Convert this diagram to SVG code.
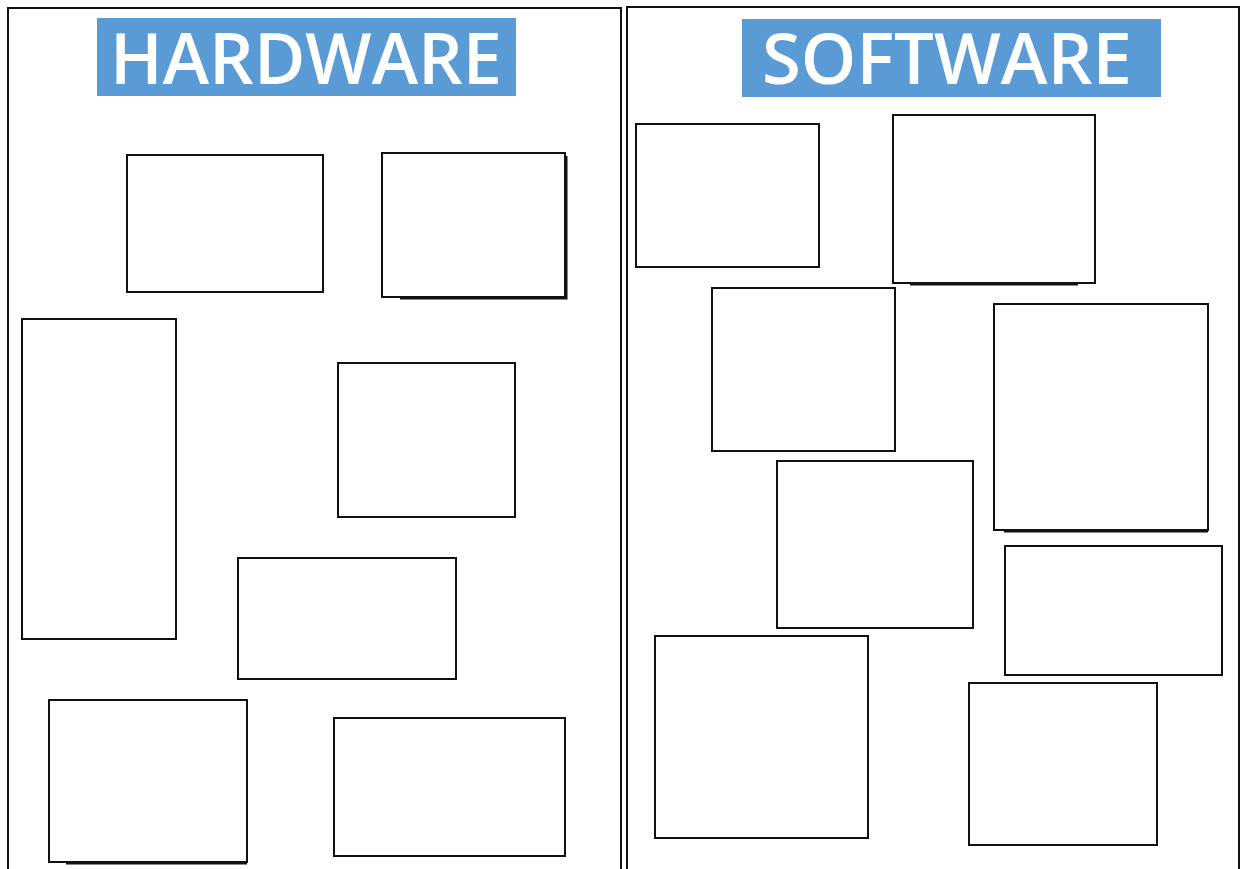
<svg xmlns="http://www.w3.org/2000/svg" width="1242" height="869" viewBox="0 0 1242 869">
<style>
.panel{fill:none;stroke:#111;stroke-width:2}
.box{fill:#fff;stroke:#111;stroke-width:2}
.shd{fill:none;stroke:#111;stroke-width:2}
.hdr{fill:#5b9bd5}
.ttl{fill:#fff;font-family:"Open Sans","Liberation Sans",sans-serif;font-weight:600;font-size:70px;text-anchor:middle}
</style>
<rect width="1242" height="869" fill="#fff"/>
<g id="panel-hardware">
<rect class="panel" x="8" y="8" width="613" height="870"/>
<rect class="hdr" x="97" y="18" width="419" height="78"/>
<text class="ttl" x="306" y="84" textLength="392" lengthAdjust="spacingAndGlyphs">HARDWARE</text>
</g>
<g id="panel-software">
<rect class="panel" x="627" y="7" width="612" height="870"/>
<rect class="hdr" x="742" y="19" width="419" height="78"/>
<text class="ttl" x="947" y="84" textLength="370" lengthAdjust="spacingAndGlyphs">SOFTWARE</text>
</g>
<g id="hw-box-1"><rect class="box" x="127" y="155" width="196" height="137"/></g>
<g id="hw-box-2"><rect class="box" x="382" y="153" width="183" height="144"/><path class="shd" d="M400 298.5H566.5V156"/></g>
<g id="hw-box-3"><rect class="box" x="22" y="319" width="154" height="320"/></g>
<g id="hw-box-4"><rect class="box" x="338" y="363" width="177" height="154"/></g>
<g id="hw-box-5"><rect class="box" x="238" y="558" width="218" height="121"/></g>
<g id="hw-box-6"><rect class="box" x="49" y="700" width="198" height="162"/><path class="shd" d="M66 863.5H247"/></g>
<g id="hw-box-7"><rect class="box" x="334" y="718" width="231" height="138"/></g>
<g id="sw-box-1"><rect class="box" x="636" y="124" width="183" height="143"/></g>
<g id="sw-box-2"><rect class="box" x="893" y="115" width="202" height="168"/><path class="shd" d="M910 284.5H1078"/></g>
<g id="sw-box-3"><rect class="box" x="712" y="288" width="183" height="163"/></g>
<g id="sw-box-4"><rect class="box" x="994" y="304" width="214" height="226"/><path class="shd" d="M1004 531.5H1208"/></g>
<g id="sw-box-5"><rect class="box" x="777" y="461" width="196" height="167"/></g>
<g id="sw-box-6"><rect class="box" x="1005" y="546" width="217" height="129"/></g>
<g id="sw-box-7"><rect class="box" x="655" y="636" width="213" height="202"/></g>
<g id="sw-box-8"><rect class="box" x="969" y="683" width="188" height="162"/></g>
<g id="connectors"></g>
</svg>
